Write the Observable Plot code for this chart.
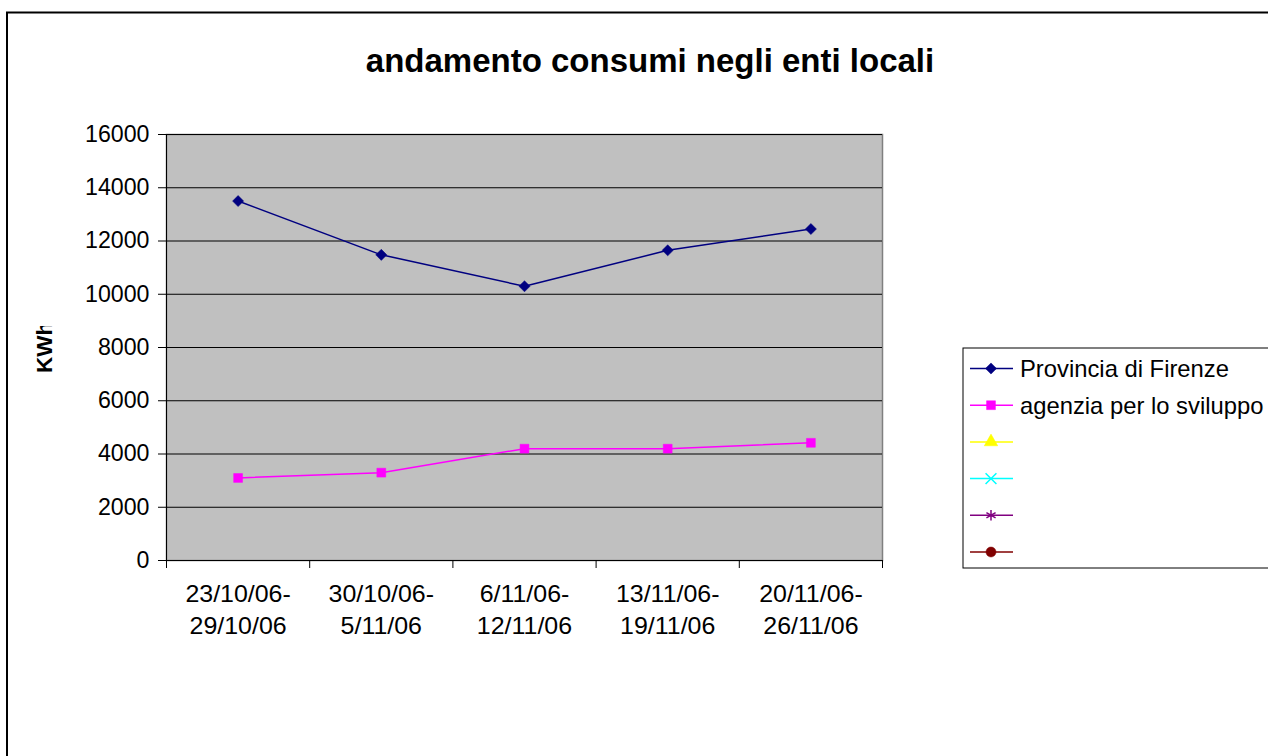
<!DOCTYPE html>
<html><head><meta charset="utf-8">
<script src="https://cdn.jsdelivr.net/npm/d3@7"></script>
<script src="https://cdn.jsdelivr.net/npm/@observablehq/plot@0.6"></script>
<style>
body{margin:0;background:#fff;}
#chart{position:relative;width:1268px;height:756px;overflow:hidden;font-family:"Liberation Sans",Arial,sans-serif;}
</style>
</head><body><div id="chart"></div>
<script>
// ---- data ----
const weeks = ["23/10/06-\n29/10/06", "30/10/06-\n5/11/06", "6/11/06-\n12/11/06", "13/11/06-\n19/11/06", "20/11/06-\n26/11/06"];
const provincia = [13500, 11480, 10300, 11650, 12450];
const agenzia = [3100, 3300, 4200, 4200, 4420];
const yTicks = [0, 2000, 4000, 6000, 8000, 10000, 12000, 14000, 16000];
const seriesNames = ["Provincia di Firenze", "agenzia per lo sviluppo", "", "", "", ""];
const seriesColors = ["#000080", "#FF00FF", "#FFFF00", "#00FFFF", "#800080", "#800000"];
const seriesSymbols = ["diamond2", "square", "triangle", "times", "asterisk", "circle"];
const titleText = "andamento consumi negli enti locali";
const yLabel = "KWh";

// ---- table ----
const rows = [];
weeks.forEach((w, i) => {
  rows.push({idx: i + 0.5, week: w, series: seriesNames[0], value: provincia[i]});
  rows.push({idx: i + 0.5, week: w, series: seriesNames[1], value: agenzia[i]});
});
const centers = weeks.map((w, i) => ({idx: i + 0.5, label: w}));
const boundaries = d3.range(weeks.length + 1);

const FONT = "'Liberation Sans', Arial, sans-serif";

const plot = Plot.plot({
  width: 1268, height: 756,
  marginLeft: 166, marginRight: 386, marginTop: 134, marginBottom: 196,
  style: {fontFamily: FONT, fontSize: "23px", color: "#000", background: "transparent", overflow: "visible"},
  x: {type: "linear", domain: [0, weeks.length], label: null},
  y: {domain: [0, 16000], label: null},
  color: {domain: seriesNames.slice(0, 2), range: seriesColors.slice(0, 2)},
  symbol: {domain: seriesNames.slice(0, 2), range: seriesSymbols.slice(0, 2)},
  marks: [
    Plot.frame({fill: "#C0C0C0", stroke: "#808080", strokeWidth: 1.5}),
    Plot.gridY(yTicks.filter(d => d > 0), {stroke: "#000", strokeOpacity: 1, strokeWidth: 1}),
    Plot.ruleY([0], {stroke: "#000", strokeWidth: 1}),
    Plot.ruleX([0], {stroke: "#000", strokeWidth: 1}),
    Plot.axisY({ticks: yTicks, tickSize: 8, tickPadding: 9, tickFormat: d => String(d), fontSize: 23.2, label: null, stroke: "#000"}),
    Plot.axisX({ticks: boundaries, tickSize: 8, tickFormat: () => "", label: null, stroke: "#000"}),
    Plot.text(centers, {x: "idx", text: "label", frameAnchor: "bottom", lineAnchor: "top", dy: 19, fontSize: 24, lineHeight: 1.33, fill: "#000"}),
    Plot.line(rows, {x: "idx", y: "value", z: "series", stroke: "series", strokeWidth: 1.5}),
    Plot.dot(rows, {x: "idx", y: "value", symbol: "series", fill: "series", stroke: "series", strokeWidth: 0.5, r: 5})
  ]
});

document.getElementById("chart").appendChild(plot);
const svg = d3.select(plot);

// slight horizontal stretch of category labels
svg.selectAll('g[aria-label="text"] text').each(function() {
  const t = this.getAttribute("transform");
  if (t) this.setAttribute("transform", t + " scale(1.04,1)");
});

// outer chart border
svg.append("rect").attr("x", 7).attr("y", 12.5).attr("width", 1300).attr("height", 800)
  .attr("fill", "none").attr("stroke", "#000").attr("stroke-width", 2);

// title
svg.append("text").attr("transform", "translate(650,72)")
  .attr("text-anchor", "middle").attr("font-weight", "bold").attr("font-size", 33)
  .attr("font-family", FONT).text(titleText);

// y label (its end is clipped at the top, like the reference)
const defs = svg.append("defs");
defs.append("clipPath").attr("id", "ylabclip").append("rect")
  .attr("x", 20).attr("y", 326).attr("width", 60).attr("height", 80);
svg.append("g").attr("clip-path", "url(#ylabclip)")
  .append("text").attr("transform", "translate(52,373) rotate(-90)")
  .attr("text-anchor", "start").attr("font-weight", "bold").attr("font-size", 22.5)
  .attr("font-family", FONT).text(yLabel);

// legend
const lg = svg.append("g");
lg.append("rect").attr("x", 963).attr("y", 348).attr("width", 340).attr("height", 220)
  .attr("fill", "#fff").attr("stroke", "#000").attr("stroke-width", 1);
const symMap = {diamond2: d3.symbolDiamond2, square: d3.symbolSquare, triangle: d3.symbolTriangle, times: d3.symbolTimes, asterisk: d3.symbolAsterisk, circle: d3.symbolCircle};
const strokeSyms = new Set(["times", "asterisk"]);
seriesNames.forEach((name, i) => {
  const y = 368.5 + i * 36.7;
  const c = seriesColors[i];
  lg.append("line").attr("x1", 970).attr("x2", 1013).attr("y1", y).attr("y2", y).attr("stroke", c).attr("stroke-width", 1.5);
  const s = seriesSymbols[i];
  const size = Math.PI * 5 * 5;
  lg.append("path").attr("transform", `translate(991,${y})`).attr("d", d3.symbol(symMap[s], size)())
    .attr("fill", strokeSyms.has(s) ? "none" : c).attr("stroke", c).attr("stroke-width", strokeSyms.has(s) ? 1.5 : 0.5);
  if (name) {
    lg.append("text").attr("transform", `translate(1020,${y})`).attr("dy", "0.35em")
      .attr("text-anchor", "start")
      .attr("font-size", 23.8).attr("font-family", FONT).text(name);
  }
});
</script>
</body></html>
